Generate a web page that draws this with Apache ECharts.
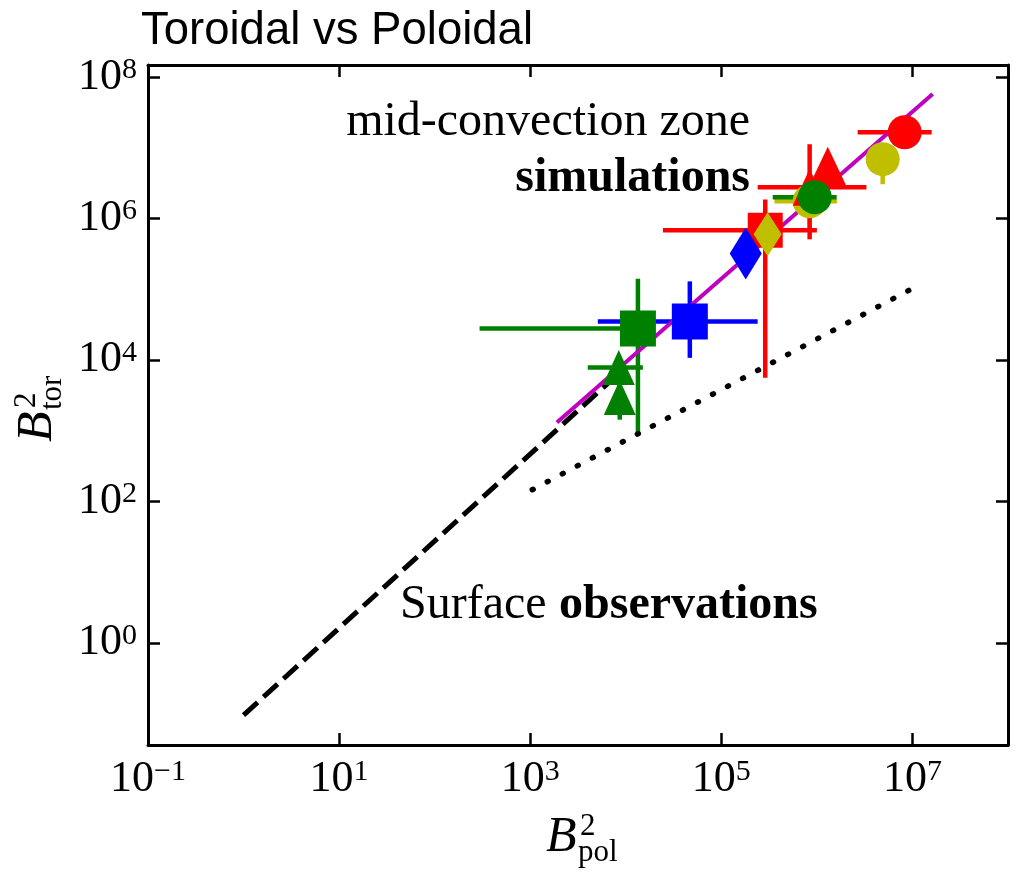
<!DOCTYPE html>
<html><head><meta charset="utf-8">
<script src="https://cdn.jsdelivr.net/npm/echarts@6/dist/echarts.min.js"></script>
<style>html,body{margin:0;padding:0;background:#fff}#c{width:1025px;height:872px}</style>
</head><body><div id="c"></div>
<script>
// ---------------- data ----------------
const xTickValues = [1e-1, 1e1, 1e3, 1e5, 1e7];
const yTickValues = [1e0, 1e2, 1e4, 1e6, 1e8];
const xRange = [1e-1, 1e8];
const yRange = [Math.pow(10, -1.445), Math.pow(10, 8.17)];

// simulation points (B_pol^2, B_tor^2) with error bar ends
const pointIds = ['gTriA', 'gTriB', 'gSq', 'bSq', 'rSq', 'yDia', 'bDia', 'yHid', 'rHid', 'rTri', 'gCirc', 'yCirc', 'rCirc'];
const pointX   = [8.45e3, 8.65e3, 1.34e4, 4.68e4, 2.88e5, 3.05e5, 1.8e5, 8.4e5, 8.4e5, 1.3e6, 9.5e5, 4.88e6, 8.3e6];
const pointY   = [7.8e3, 2.93e3, 2.79e4, 3.5e4, 6.8e5, 6.0e5, 3.2e5, 1.75e6, 2.77e6, 5.4e6, 2.0e6, 6.9e6, 1.66e7];
const errXLow  = [4.0e3, null, 295, 5.1e3, 2.45e4, null, null, 3.6e5, 2.4e5, null, 3.45e5, null, 2.67e6];
const errXHigh = [1.51e4, null, 2.0e4, 2.4e5, 1.0e6, null, null, 1.62e6, 3.3e6, null, 1.61e6, null, 1.59e7];
const errYLow  = [null, 1.43e3, 933, 1.07e4, 5.6e3, null, null, 7.1e5, 5.07e5, null, null, 3.05e6, null];
const errYHigh = [null, 6.0e3, 1.41e5, 1.29e5, 1.86e6, null, null, 4.4e6, 1.12e7, null, null, null, null];

// reference lines
const fitLineX = [1.9e3, 1.63e7];
const fitLineY = [1.3e3, 5.75e7];
const dashLineX = [1, 6.8e3];
const dashLineY = [0.095, 4.94e3];
const dotLineX = [1.05e3, 1.05e7];
const dotLineY = [146, 1.06e5];

// ---------------- styles ----------------
const R = '#ff0000', G = '#008000', B = '#0000ff', Y = '#bfbf00', M = '#bf00bf';
const markerStyle = {
  gTriA: {symbol: 'triangle', size: [32, 35], color: G},
  gTriB: {symbol: 'triangle', size: [32, 35], color: G},
  gSq:   {symbol: 'rect', size: 36, color: G},
  bSq:   {symbol: 'rect', size: 36, color: B},
  rSq:   {symbol: 'rect', size: 35, color: R},
  yDia:  {symbol: 'diamond', size: [28, 44], color: Y},
  bDia:  {symbol: 'diamond', size: [32, 52], color: B},
  yHid:  {symbol: 'circle', size: 34, color: Y},
  rHid:  {symbol: 'triangle', size: [34, 37], color: R},
  rTri:  {symbol: 'triangle', size: [38, 40], color: R},
  gCirc: {symbol: 'circle', size: 34, color: G},
  yCirc: {symbol: 'circle', size: 34, color: Y},
  rCirc: {symbol: 'circle', size: 34, color: R}
};

const SERIF = '"Liberation Serif", "Times New Roman", serif';
const SANS = '"Liberation Sans", Arial, sans-serif';

function expLabel(v) {
  const e = Math.round(Math.log10(v));
  const s = e < 0 ? '\u2212' + (-e) : String(e);
  return '{b|10}{s|' + s + '}';
}
const labelRich = {
  b: {fontFamily: SERIF, fontSize: 44, lineHeight: 44, color: '#000'},
  s: {fontFamily: SERIF, fontSize: 30, lineHeight: 26, verticalAlign: 'top', color: '#000'}
};

function makeAxis(vals, range, pos, showLabel, margin) {
  return {
    type: 'log', logBase: 10, min: range[0], max: range[1], position: pos,
    axisLine: {show: true, onZero: false, lineStyle: {color: '#000', width: 3}},
    axisTick: {show: true, inside: true, length: 12, customValues: vals, lineStyle: {color: '#000', width: 2.5}},
    minorTick: {show: false},
    splitLine: {show: false},
    axisLabel: {show: showLabel, customValues: vals, formatter: expLabel, rich: labelRich, margin: margin,
      showMinLabel: true, showMaxLabel: true}
  };
}

// error bar rows
const errRows = pointIds.map((id, i) => [pointX[i], pointY[i], errXLow[i], errXHigh[i], errYLow[i], errYHigh[i], i]);

function num(v) { return (v === null || v === undefined || !isFinite(v)) ? null : v; }

const series = [];
series.push({
  type: 'custom', name: 'errorbars', z: 2, silent: true,
  data: errRows,
  encode: {x: 0, y: 1},
  renderItem: function (params, api) {
    const i = api.value(6);
    const x = api.value(0), y = api.value(1);
    const col = markerStyle[pointIds[i]].color;
    const children = [];
    const xl = num(errXLow[i]), xh = num(errXHigh[i]), yl = num(errYLow[i]), yh = num(errYHigh[i]);
    if (xl !== null || xh !== null) {
      const a = api.coord([xl !== null ? xl : x, y]);
      const b = api.coord([xh !== null ? xh : x, y]);
      children.push({type: 'line', shape: {x1: a[0], y1: a[1], x2: b[0], y2: b[1]}, style: {stroke: col, lineWidth: 4.5}});
    }
    if (yl !== null || yh !== null) {
      const a = api.coord([x, yl !== null ? yl : y]);
      const b = api.coord([x, yh !== null ? yh : y]);
      children.push({type: 'line', shape: {x1: a[0], y1: a[1], x2: b[0], y2: b[1]}, style: {stroke: col, lineWidth: 4.5}});
    }
    return {type: 'group', children: children};
  }
});

function lineSeries(xs, ys, color, width, type, cap) {
  return {
    type: 'line', z: 3, silent: true, symbol: 'none', animation: false,
    data: xs.map((v, i) => [v, ys[i]]),
    lineStyle: {color: color, width: width, type: type, cap: cap || 'butt'}
  };
}
series.push(lineSeries(dashLineX, dashLineY, '#000', 5, [19, 8]));
series.push(lineSeries(dotLineX, dotLineY, '#000', 5.5, [1, 16], 'round'));
series.push(lineSeries(fitLineX, fitLineY, M, 4));

pointIds.forEach((id, i) => {
  const st = markerStyle[id];
  series.push({
    type: 'scatter', z: 4 + i, silent: true,
    symbol: st.symbol, symbolSize: st.size,
    itemStyle: {color: st.color, opacity: 1},
    data: [[pointX[i], pointY[i]]]
  });
});

// ---------------- text helpers ----------------
function txt(x, baseline, text, fs, family, opts) {
  opts = opts || {};
  return {
    type: 'text', x: x, y: baseline - 0.305 * fs, silent: true,
    style: {text: text, fontSize: fs, fontFamily: family, fontWeight: opts.weight || 'normal',
      fontStyle: opts.italic ? 'italic' : 'normal', fill: '#000', align: opts.align || 'left', verticalAlign: 'middle'}
  };
}
function mathLabel(sub, cx, cy, rot) {
  return {
    type: 'group', x: cx, y: cy, rotation: rot,
    children: [
      txt(0, 0, 'B', 50, SERIF, {italic: true}),
      txt(34, -17, '2', 31, SERIF),
      txt(32, 9, sub, 31, SERIF)
    ]
  };
}

const graphic = [
  txt(141, 45, 'Toroidal vs Poloidal', 45.5, SANS),
  txt(750, 137, 'mid-convection zone', 48, SERIF, {align: 'right'}),
  txt(750, 193, 'simulations', 48, SERIF, {align: 'right', weight: 'bold'}),
  txt(400, 620, 'Surface', 48, SERIF),
  txt(559, 620, 'observations', 48, SERIF, {weight: 'bold'}),
  mathLabel('pol', 546, 853, 0),
  mathLabel('tor', 53, 442, Math.PI / 2)
];

const chart = echarts.init(document.getElementById('c'), null, {renderer: 'canvas'});
chart.setOption({
  animation: false,
  backgroundColor: '#fff',
  grid: {left: 148, right: 17, top: 65, bottom: 127, containLabel: false, outerBoundsMode: 'none'},
  xAxis: [makeAxis(xTickValues, xRange, 'bottom', true, 12), makeAxis(xTickValues, xRange, 'top', false, 8)],
  yAxis: [makeAxis(yTickValues, yRange, 'left', true, 11), makeAxis(yTickValues, yRange, 'right', false, 8)],
  series: series,
  graphic: graphic
});
</script>
</body></html>
